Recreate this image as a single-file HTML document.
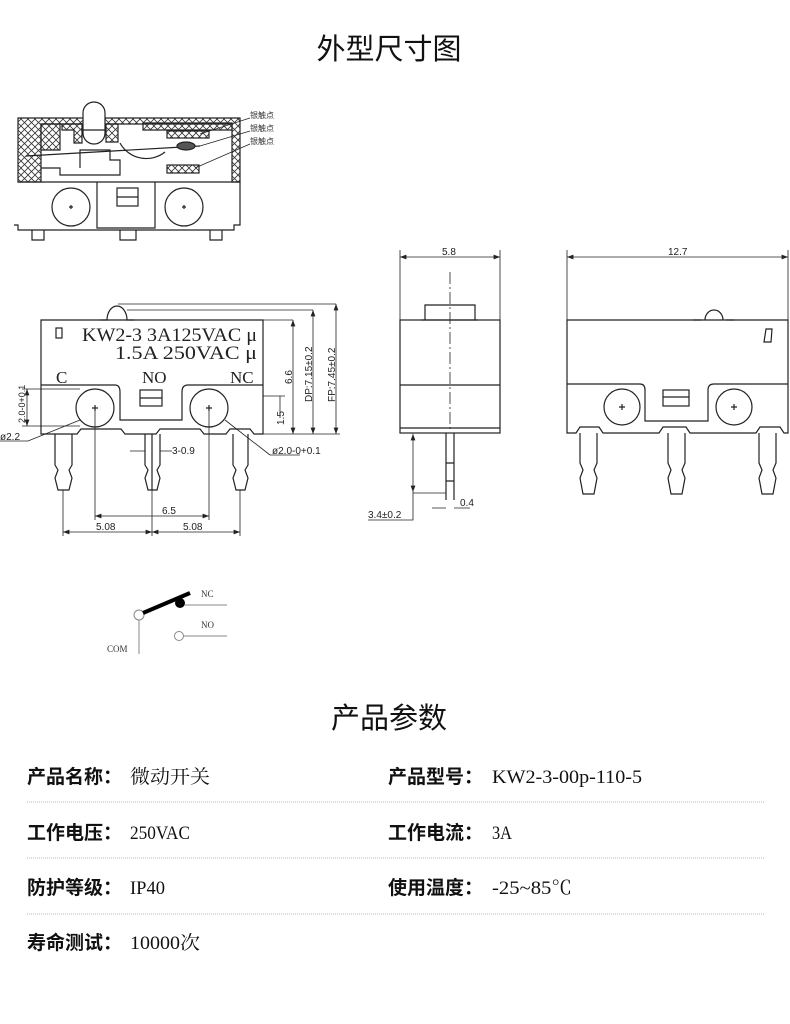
<!DOCTYPE html>
<html><head><meta charset="utf-8"><style>
html,body{margin:0;padding:0;background:#fff;}
svg{display:block}
.t{font-family:"Liberation Sans","Noto Sans CJK SC",sans-serif;}
.s{font-family:"Liberation Serif","Noto Serif CJK SC",serif;}
</style></head><body>
<svg width="790" height="1024" viewBox="0 0 790 1024" xmlns="http://www.w3.org/2000/svg">
<defs>
<pattern id="h" width="7" height="7" patternUnits="userSpaceOnUse">
<path d="M0 0L7 7M7 0L0 7" stroke="#333" stroke-width="0.8"/></pattern>
<marker id="a" markerWidth="8" markerHeight="6" refX="8" refY="3" orient="auto-start-reverse"><path d="M0 0L8 3L0 6z" fill="#222"/></marker>
</defs>
<text x="389" y="59" font-size="29" text-anchor="middle" class="t" fill="#111">外型尺寸图</text>

<!-- Section view -->
<g stroke="#222" fill="none" stroke-width="1.2">
<path d="M18 118H240V182H232V124H41V182H18Z" fill="url(#h)"/>
<path d="M41 124H60V150H41Z" fill="url(#h)"/>
<path d="M62 124H82V143H74V130H62Z" fill="url(#h)"/>
<path d="M106 124H118V142H106Z" fill="url(#h)"/>
<path d="M143 123H232V130H143Z" fill="url(#h)"/>
<rect x="83" y="102" width="22" height="42" rx="11" fill="#fff"/>
<line x1="83" y1="130" x2="105" y2="130"/>
<path d="M26 156L200 146"/>
<ellipse cx="186" cy="146" rx="9" ry="4" fill="#555"/>
<rect x="167" y="131" width="42" height="7" fill="url(#h)"/>
<rect x="167" y="165" width="32" height="8" fill="url(#h)"/>
<path d="M120 143A30 30 0 0 0 165 152"/>
<path d="M41 168H60V175H120V160H110V150H80V168"/>
<path d="M18 182H240V225H234V230H18V225H14"/>
<path d="M97 182V228H155V182"/>
<circle cx="71" cy="207" r="19"/><circle cx="184" cy="207" r="19"/>
<path d="M69 207h4M71 205v4M182 207h4M184 205v4"/>
<rect x="117" y="188" width="21" height="18"/><line x1="117" y1="197" x2="138" y2="197"/>
<path d="M32 230v10h12v-10M120 230v10h16v-10M210 230v10h12v-10"/>
<path d="M200 134L250 118M200 146L250 131M195 168L250 144" stroke-width="0.7"/>
</g>
<g class="t" font-size="8" fill="#333"><text x="250" y="118">银触点</text><text x="250" y="131">银触点</text><text x="250" y="144">银触点</text></g>

<!-- Front view -->
<g stroke="#222" fill="none" stroke-width="1.2">
<path d="M107 320A10 14 0 0 1 127 320"/>
<path d="M100 320H108M127 320H134"/>
<path d="M41 320H263V434H254L250 429H230L226 434H204L200 429H160L156 434H125L121 429H81L77 434H41Z"/>
<path d="M41 385H115Q120 385 120 392V420H182V392Q182 385 188 385H263"/>
<circle cx="95" cy="408" r="19"/><circle cx="209" cy="408" r="19"/>
<path d="M92 408h6M95 405v6M206 408h6M209 405v6"/>
<rect x="140" y="390" width="22" height="16"/><line x1="140" y1="398" x2="162" y2="398"/>
<rect x="56" y="328" width="6" height="10"/>
<path d="M55 434V465L58 470L55 478L58 490H69L72 478L69 470L72 465V434"/>
<path d="M145 434V465L148 470L145 478L148 490H157L160 478L157 470L160 465V434M152 434V490"/>
<path d="M233 434V465L236 470L233 478L236 490H245L248 478L245 470L248 465V434"/>
</g>
<g stroke="#222" fill="none" stroke-width="0.8">
<path d="M118 304H336M127 310H313M263 320H293M263 396H285M263 434H340"/>
<line x1="293" y1="320" x2="293" y2="434" marker-start="url(#a)" marker-end="url(#a)"/>
<line x1="313" y1="310" x2="313" y2="434" marker-start="url(#a)" marker-end="url(#a)"/>
<line x1="336" y1="304" x2="336" y2="434" marker-start="url(#a)" marker-end="url(#a)"/>
<line x1="280" y1="396" x2="280" y2="418"/>
<path d="M22 389H80M22 426H80"/><line x1="27" y1="389" x2="27" y2="426" marker-start="url(#a)" marker-end="url(#a)"/>
<path d="M0 441H28L80 420M270 455H300M270 455L225 420"/>
<path d="M95 408V520M209 408V520M63 490V536M240 490V536M152 490V536"/>
<line x1="95" y1="516" x2="209" y2="516" marker-start="url(#a)" marker-end="url(#a)"/>
<line x1="63" y1="532" x2="152" y2="532" marker-start="url(#a)" marker-end="url(#a)"/>
<line x1="152" y1="532" x2="240" y2="532" marker-start="url(#a)" marker-end="url(#a)"/>
<path d="M130 451H145M160 451H172"/>
</g>
<g class="s" fill="#222">
<text x="82" y="341" font-size="19" textLength="175" lengthAdjust="spacingAndGlyphs">KW2-3  3A125VAC μ</text>
<text x="115" y="359" font-size="19" textLength="142" lengthAdjust="spacingAndGlyphs">1.5A  250VAC μ</text>
<text x="56" y="383" font-size="17">C</text><text x="142" y="383" font-size="17">NO</text><text x="230" y="383" font-size="17">NC</text>
</g>
<g class="t" font-size="10" fill="#222">
<text transform="translate(292 384) rotate(-90)">6.6</text>
<text transform="translate(312 402) rotate(-90)">DP:7.15±0.2</text>
<text transform="translate(335 402) rotate(-90)">FP:7.45±0.2</text>
<text transform="translate(284 425) rotate(-90)">1.5</text>
<text transform="translate(25 423) rotate(-90)" font-size="9">2.0-0+0.1</text>
<text x="0" y="440">ø2.2</text><text x="272" y="454">ø2.0-0+0.1</text>
<text x="172" y="454">3-0.9</text><text x="162" y="514">6.5</text>
<text x="96" y="530">5.08</text><text x="183" y="530">5.08</text>
</g>

<!-- Side view -->
<g stroke="#222" fill="none" stroke-width="1.2">
<path d="M425 320V305H475V320M421 320H478"/>
<rect x="400" y="320" width="100" height="113"/>
<line x1="400" y1="385" x2="500" y2="385"/><line x1="400" y1="428" x2="500" y2="428"/>
<path d="M446 433V500M454 433V500M446 463H454M446 481H454"/>
</g>
<g stroke="#222" fill="none" stroke-width="0.8">
<path d="M450 272V430" stroke-dasharray="12 3 2 3"/>
<path d="M400 250V320M500 250V320"/>
<line x1="400" y1="257" x2="500" y2="257" marker-start="url(#a)" marker-end="url(#a)"/>
<line x1="413" y1="434" x2="413" y2="492" marker-start="url(#a)" marker-end="url(#a)"/>
<path d="M413 492V520H368M413 493H446M432 508H446M454 508H470"/>
</g>
<g class="t" font-size="10" fill="#222"><text x="442" y="255">5.8</text><text x="368" y="518">3.4±0.2</text><text x="460" y="506">0.4</text></g>

<!-- Right view -->
<g stroke="#222" fill="none" stroke-width="1.2">
<path d="M705 320A9 10 0 0 1 723 320M693 320H701M726 320H734"/>
<path d="M567 320H788V433H784L780 427H760L756 433H690L686 427H663L659 433H603L599 427H580L576 433H567Z"/>
<path d="M567 384H640Q645 384 645 390V421H708V390Q708 384 714 384H788"/>
<circle cx="622" cy="407" r="18"/><circle cx="734" cy="407" r="18"/>
<path d="M619 407h6M622 404v6M731 407h6M734 404v6"/>
<rect x="663" y="390" width="26" height="16"/><line x1="663" y1="397" x2="689" y2="397"/>
<path d="M766 329L772 329L771 342L764 342Z"/>
<path d="M580 433V463L583 470L580 478L583 494H594L597 478L594 470L597 463V433"/>
<path d="M668 433V463L671 470L668 478L671 494H682L685 478L682 470L685 463V433"/>
<path d="M759 433V463L762 470L759 478L762 494H773L776 478L773 470L776 463V433"/>
</g>
<g stroke="#222" fill="none" stroke-width="0.8">
<path d="M567 250V320M788 250V320"/>
<line x1="567" y1="257" x2="788" y2="257" marker-start="url(#a)" marker-end="url(#a)"/>
</g>
<text x="668" y="255" class="t" font-size="10" fill="#222">12.7</text>

<!-- Schematic -->
<g stroke="#888" fill="none" stroke-width="1">
<path d="M139 620V654M185 605H227M184 636H227"/>
<circle cx="139" cy="615" r="5" fill="#fff"/><circle cx="179" cy="636" r="4.5" fill="#fff"/>
</g>
<path d="M143 613L190 593" stroke="#000" stroke-width="4"/>
<circle cx="180" cy="603" r="5" fill="#000"/>
<g class="s" font-size="9" fill="#333"><text x="201" y="597">NC</text><text x="201" y="628">NO</text><text x="107" y="652">COM</text></g>

<text x="389" y="728" font-size="29" text-anchor="middle" class="t" fill="#111">产品参数</text>

<g fill="#111">
<g class="t" font-weight="bold" font-size="19">
<text x="27" y="783">产品名称：</text><text x="388" y="783">产品型号：</text>
<text x="27" y="839">工作电压：</text><text x="388" y="839">工作电流：</text>
<text x="27" y="894">防护等级：</text><text x="388" y="894">使用温度：</text>
<text x="27" y="949">寿命测试：</text>
</g>
<g class="s" font-size="19" lengthAdjust="spacingAndGlyphs">
<text x="130" y="783" textLength="80" lengthAdjust="spacingAndGlyphs">微动开关</text>
<text x="492" y="783" textLength="150" lengthAdjust="spacingAndGlyphs">KW2-3-00p-110-5</text>
<text x="130" y="839" textLength="60" lengthAdjust="spacingAndGlyphs">250VAC</text>
<text x="492" y="839" textLength="20" lengthAdjust="spacingAndGlyphs">3A</text>
<text x="130" y="894" textLength="35" lengthAdjust="spacingAndGlyphs">IP40</text>
<text x="492" y="894" textLength="80" lengthAdjust="spacingAndGlyphs">-25~85℃</text>
<text x="130" y="949" textLength="70" lengthAdjust="spacingAndGlyphs">10000次</text>
</g>
</g>
<g stroke="#bbb" stroke-dasharray="1 1" stroke-width="1">
<line x1="27" y1="802" x2="765" y2="802"/><line x1="27" y1="858" x2="765" y2="858"/><line x1="27" y1="914" x2="765" y2="914"/>
</g>
</svg>
</body></html>
